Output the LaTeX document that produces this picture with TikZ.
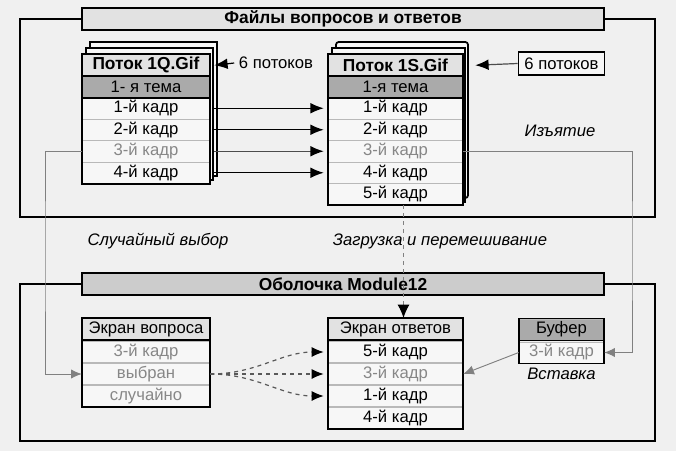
\documentclass[tikz,border=0pt]{standalone}
\usepackage{fontspec}
\setmainfont{Liberation Sans}
\usetikzlibrary{arrows.meta,positioning}

\definecolor{bgcol}{RGB}{240,240,240}
\definecolor{rowcol}{RGB}{247,247,247}
\definecolor{headcol}{RGB}{226,226,226}
\definecolor{themecol}{RGB}{170,170,170}
\definecolor{barcol}{RGB}{204,204,204}
\definecolor{dimtext}{RGB}{135,135,135}

\tikzset{
  cell/.style={draw=gray!55, fill=rowcol, inner sep=0pt, minimum height=16.1pt,
    font=\fontsize{12.5}{14}\selectfont},
  lcell/.style={cell, minimum width=96pt},
  rcell/.style={cell, minimum width=101.25pt},
  bcell/.style={cell, minimum width=63.75pt},
  dim/.style={text=dimtext},
  head/.style={fill=headcol},
  bold/.style={font=\fontsize{13}{14}\selectfont\bfseries},
  theme/.style={fill=themecol},
  titlebar/.style={draw, line width=1.2pt, inner sep=0pt, minimum width=391.5pt,
    minimum height=16.5pt, bold},
  boxline/.style={line width=1.3pt},
  frame/.style={line width=1.8pt},
  flow/.style={-{Latex[length=10pt,width=8pt,black]}, line width=0.9pt},
  graylink/.style={-{Latex[length=8pt,width=7pt]}, draw=gray, line width=0.7pt},
  dashflow/.style={-{Latex[length=9pt,width=7.5pt,black]}, dashed, line width=0.9pt,
    draw=gray!70!black},
  note/.style={font=\fontsize{12.5}{14}\selectfont\itshape},
}

\begin{document}
\begin{tikzpicture}[x=0.75pt, y=-0.75pt]
  \useasboundingbox[fill=bgcol] (0,0) rectangle (676,451);

  % upper part: files of questions and answers
  \node[titlebar, fill=headcol] (ftitle) at (343,19) {Файлы вопросов и ответов};
  \draw[frame] (ftitle.west) -- (20,19) -- (20,217) -- (655,217) -- (655,19) -- (ftitle.east);

  % back pages of the two stacks
  \draw[boxline, fill=rowcol] (90,42) rectangle (217,176);
  \draw[boxline, fill=rowcol] (86,48) rectangle (213,180);
  \draw[boxline, fill=rowcol, rounded corners=2pt] (336,42) rectangle (468,198);
  \draw[boxline, fill=rowcol] (332,48) rectangle (465,202);

  % stack of questions
  \node[lcell, head, bold] (q1h) at (146,65.25) {Поток 1Q.Gif};
  \node[lcell, theme] (q1t) at (146,86.75) {1- я тема};
  \node[lcell] (q1r1) at (146,108.25) {1-й кадр};
  \node[lcell] (q1r2) at (146,129.75) {2-й кадр};
  \node[lcell, dim] (q1r3) at (146,151.25) {3-й кадр};
  \node[lcell] (q1r4) at (146,172.75) {4-й кадр};
  \draw[boxline] (q1h.north west) rectangle (q1r4.south east);
  \draw[boxline] (q1h.south west) -- (q1h.south east);
  \draw[boxline] (q1t.south west) -- (q1t.south east);

  % stack of answers
  \node[rcell, head, bold] (s1h) at (395.5,65.25) {Поток 1S.Gif};
  \node[rcell, theme] (s1t) at (395.5,86.75) {1-я тема};
  \node[rcell] (s1r1) at (395.5,108.25) {1-й кадр};
  \node[rcell] (s1r2) at (395.5,129.75) {2-й кадр};
  \node[rcell, dim] (s1r3) at (395.5,151.25) {3-й кадр};
  \node[rcell] (s1r4) at (395.5,172.75) {4-й кадр};
  \node[rcell] (s1r5) at (395.5,194.25) {5-й кадр};
  \draw[boxline] (s1h.north west) rectangle (s1r5.south east);
  \draw[boxline] (s1h.south west) -- (s1h.south east);
  \draw[boxline] (s1t.south west) -- (s1t.south east);

  % frames go over one by one
  \draw[flow, shorten <=3pt, shorten >=3pt] (q1r1.east) -- (s1r1.west);
  \draw[flow, shorten <=3pt, shorten >=3pt] (q1r2.east) -- (s1r2.west);
  \draw[flow, shorten <=3pt, shorten >=3pt, draw=gray!60!black] (q1r3.east) -- (s1r3.west);
  \draw[flow, shorten <=3pt, shorten >=3pt] (q1r4.east) -- (s1r4.west);

  % six streams
  \node[font=\fontsize{12.5}{14}\selectfont] (lcount) at (276,63) {6 потоков};
  \draw[flow] (lcount.west) -- ([xshift=3pt]q1h.east);
  \node[draw, boxline, fill=rowcol, inner sep=0pt, minimum width=64.5pt, minimum height=17pt,
    font=\fontsize{12.5}{14}\selectfont] (rcount) at (561.5,63.5) {6 потоков};
  \draw[flow, draw=gray!60!black] (rcount.west) -- ([xshift=9pt]s1h.east);

  \node[note] (take) at (560,131) {Изъятие};
  \node[note] (pick) at (158,241) {Случайный выбор};
  \node[note] (load) at (440,241) {Загрузка и перемешивание};

  % lower part: the shell
  \node[titlebar, fill=barcol] (mtitle) at (343,284) {Оболочка Module12};
  \draw[frame] (mtitle.west) -- (20,284) -- (20,441) -- (655,441) -- (655,284) -- (mtitle.east);

  % question screen
  \node[lcell, head] (qh) at (146,329) {Экран вопроса};
  \node[lcell, dim] (qr1) at (146,352) {3-й кадр};
  \node[lcell, dim] (qr2) at (146,374) {выбран};
  \node[lcell, dim] (qr3) at (146,396) {случайно};
  \draw[boxline] (qh.north west) rectangle (qr3.south east);
  \draw[boxline] (qh.south west) -- (qh.south east);

  % answer screen
  \node[rcell, head] (ah) at (395.5,329) {Экран ответов};
  \node[rcell] (ar1) at (395.5,352) {5-й кадр};
  \node[rcell, dim] (ar2) at (395.5,374) {3-й кадр};
  \node[rcell] (ar3) at (395.5,396) {1-й кадр};
  \node[rcell] (ar4) at (395.5,418) {4-й кадр};
  \draw[boxline] (ah.north west) rectangle (ar4.south east);
  \draw[boxline] (ah.south west) -- (ah.south east);

  % buffer
  \node[bcell, theme] (bufh) at (561.5,329.5) {Буфер};
  \node[bcell, dim] (bufr) at (561.5,352.5) {3-й кадр};
  \draw[boxline] (bufh.north west) rectangle (bufr.south east);
  \draw[boxline] (bufh.south west) -- (bufh.south east);
  \node[note, below=0pt of bufr] (put) {Вставка};

  % gray routes through the buffer and the random pick
  \coordinate (ext) at (632,250);
  \coordinate (side) at (45,250);
  \draw[graylink] (s1r3.east) -| (ext) |- (bufr.east);
  \draw[graylink] (q1r3.west) -| (side) |- (qr2.west);
  \draw[graylink] (bufr.west) -- (ar2.east);

  % loading into the answer screen
  \draw[dashflow, draw=gray, -{Latex[length=10pt,width=9pt,black]}]
    ([xshift=6pt]s1r5.south) -- ([xshift=6pt]ah.north);

  % shuffled frames
  \draw[dashflow, shorten >=3pt] (qr2.east) to[out=0, in=180] (ar1.west);
  \draw[dashflow, shorten >=3pt] (qr2.east) -- (ar2.west);
  \draw[dashflow, shorten >=3pt] (qr2.east) to[out=0, in=180] (ar3.west);
\end{tikzpicture}
\end{document}
